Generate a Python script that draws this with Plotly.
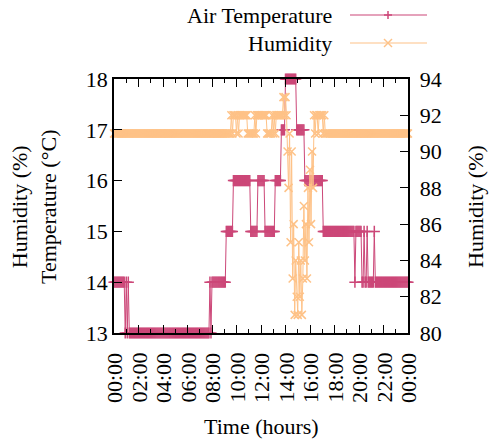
import plotly.graph_objects as go

# ---- data: 5-minute readings over one day (00:00 .. 24:00) ----
sample_minutes = list(range(0, 24 * 60 + 1, 5))
time_hours = [m / 60 for m in sample_minutes]

air_temperature = [
    14, 14, 14, 14, 14, 14, 14, 14, 14, 14, 14, 13,   # 00h
    14, 13, 14, 13, 13, 13, 13, 13, 13, 13, 13, 13,   # 01h
    13, 13, 13, 13, 13, 13, 13, 13, 13, 13, 13, 13,   # 02h
    13, 13, 13, 13, 13, 13, 13, 13, 13, 13, 13, 13,   # 03h
    13, 13, 13, 13, 13, 13, 13, 13, 13, 13, 13, 13,   # 04h
    13, 13, 13, 13, 13, 13, 13, 13, 13, 13, 13, 13,   # 05h
    13, 13, 13, 13, 13, 13, 13, 13, 13, 13, 13, 13,   # 06h
    13, 13, 13, 13, 13, 13, 13, 13, 13, 13, 14, 13,   # 07h
    14, 14, 14, 14, 14, 14, 14, 14, 14, 14, 14, 14,   # 08h
    14, 14, 15, 15, 15, 15, 15, 15, 15, 16, 16, 16,   # 09h
    16, 16, 16, 16, 16, 16, 16, 16, 16, 16, 16, 16,   # 10h
    16, 16, 15, 15, 15, 15, 15, 15, 15, 16, 16, 16,   # 11h
    16, 16, 16, 16, 15, 15, 15, 15, 15, 15, 15, 15,   # 12h
    15, 15, 16, 16, 16, 16, 16, 16, 17, 17, 17, 17,   # 13h
    18, 18, 18, 18, 18, 18, 18, 18, 18, 18, 18, 17,   # 14h
    17, 17, 17, 17, 17, 17, 17, 16, 16, 16, 16, 16,   # 15h
    16, 16, 16, 16, 16, 16, 16, 16, 16, 16, 16, 16,   # 16h
    16, 15, 15, 15, 15, 15, 15, 15, 15, 15, 15, 15,   # 17h
    15, 15, 15, 15, 15, 15, 15, 15, 15, 15, 15, 15,   # 18h
    15, 15, 15, 15, 15, 15, 15, 15, 14, 15, 15, 15,   # 19h
    15, 15, 15, 14, 14, 15, 14, 14, 15, 14, 14, 14,   # 20h
    14, 14, 14, 15, 14, 14, 14, 14, 14, 14, 14, 14,   # 21h
    14, 14, 14, 14, 14, 14, 14, 14, 14, 14, 14, 14,   # 22h
    14, 14, 14, 14, 14, 14, 14, 14, 14, 14, 14, 14,   # 23h
    14,                                               # 24h
]

humidity = [
    91, 91, 91, 91, 91, 91, 91, 91, 91, 91, 91, 91,   # 00h
    91, 91, 91, 91, 91, 91, 91, 91, 91, 91, 91, 91,   # 01h
    91, 91, 91, 91, 91, 91, 91, 91, 91, 91, 91, 91,   # 02h
    91, 91, 91, 91, 91, 91, 91, 91, 91, 91, 91, 91,   # 03h
    91, 91, 91, 91, 91, 91, 91, 91, 91, 91, 91, 91,   # 04h
    91, 91, 91, 91, 91, 91, 91, 91, 91, 91, 91, 91,   # 05h
    91, 91, 91, 91, 91, 91, 91, 91, 91, 91, 91, 91,   # 06h
    91, 91, 91, 91, 91, 91, 91, 91, 91, 91, 91, 91,   # 07h
    91, 91, 91, 91, 91, 91, 91, 91, 91, 91, 91, 91,   # 08h
    91, 91, 91, 91, 91, 91, 91, 92, 91, 92, 92, 92,   # 09h
    91, 92, 91, 92, 92, 92, 92, 92, 92, 92, 92, 91,   # 10h
    91, 91, 91, 91, 91, 91, 92, 91, 92, 92, 92, 92,   # 11h
    92, 92, 92, 92, 92, 92, 91, 91, 91, 91, 91, 92,   # 12h
    91, 92, 91, 92, 92, 92, 92, 92, 92, 92, 93, 92,   # 13h
    93, 92, 90, 88, 91, 85, 90, 83, 86, 81, 84, 82,   # 14h
    81, 85, 82, 84, 81, 83, 87, 84, 86, 83, 88, 85,   # 15h
    89, 86, 90, 88, 92, 91, 92, 92, 91, 92, 92, 92,   # 16h
    92, 91, 92, 91, 91, 91, 91, 91, 91, 91, 91, 91,   # 17h
    91, 91, 91, 91, 91, 91, 91, 91, 91, 91, 91, 91,   # 18h
    91, 91, 91, 91, 91, 91, 91, 91, 91, 91, 91, 91,   # 19h
    91, 91, 91, 91, 91, 91, 91, 91, 91, 91, 91, 91,   # 20h
    91, 91, 91, 91, 91, 91, 91, 91, 91, 91, 91, 91,   # 21h
    91, 91, 91, 91, 91, 91, 91, 91, 91, 91, 91, 91,   # 22h
    91, 91, 91, 91, 91, 91, 91, 91, 91, 91, 91, 91,   # 23h
    91,                                               # 24h
]

x_tick_values = [0, 2, 4, 6, 8, 10, 12, 14, 16, 18, 20, 22, 24]
x_tick_labels = ["00:00", "02:00", "04:00", "06:00", "08:00", "10:00", "12:00",
                 "14:00", "16:00", "18:00", "20:00", "22:00", "00:00"]
temp_ticks = [13, 14, 15, 16, 17, 18]
hum_ticks = [80, 82, 84, 86, 88, 90, 92, 94]

TEMP_COLOR = "#cc4778"
HUM_COLOR = "#fec287"
FONT = "Times New Roman, Liberation Serif, Times, DejaVu Serif, serif"
FS = 22
TXT = dict(family=FONT, size=FS, color="black")
NBSP = "\u00a0"

# ---- geometry (pixels) ----
W, H = 495, 440
L, R, T, B = 114, 408, 79, 333


def px_x(px):
    return (px - L) / (R - L)


def px_y(py):
    return (B - py) / (B - T)


fig = go.Figure()
fig.add_trace(go.Scatter(
    x=time_hours, y=air_temperature, name="Air Temperature",
    mode="lines+markers", cliponaxis=False,
    line=dict(color=TEMP_COLOR, width=1),
    marker=dict(symbol="cross-thin", size=8, color=TEMP_COLOR,
                line=dict(color=TEMP_COLOR, width=1.5)),
    yaxis="y", showlegend=False,
))
fig.add_trace(go.Scatter(
    x=time_hours, y=humidity, name="Humidity",
    mode="lines+markers", cliponaxis=False,
    line=dict(color=HUM_COLOR, width=1),
    marker=dict(symbol="x-thin", size=8, color=HUM_COLOR,
                line=dict(color=HUM_COLOR, width=1.5)),
    yaxis="y2", showlegend=False,
))

fig.update_layout(
    width=W, height=H,
    margin=dict(l=L, r=W - R, t=T, b=H - B, pad=0),
    paper_bgcolor="white", plot_bgcolor="white",
    font=TXT,
    xaxis=dict(
        range=[0, 24], tickvals=x_tick_values, showticklabels=False,
        ticks="inside", ticklen=8, tickwidth=1, tickcolor="black",
        minor=dict(dtick=1, tick0=0, ticks="inside", ticklen=4, tickcolor="black"),
        showline=True, linecolor="black", linewidth=1.5, mirror="ticks",
        showgrid=False, zeroline=False,
    ),
    yaxis=dict(
        range=[13, 18], tickvals=temp_ticks, ticks="inside", ticklen=8,
        tickwidth=1, tickcolor="black",
        showline=True, linecolor="black", linewidth=1.5,
        showgrid=False, zeroline=False, tickfont=TXT,
    ),
    yaxis2=dict(
        range=[80, 94], tickvals=hum_ticks,
        ticktext=[NBSP + str(v) for v in hum_ticks],
        overlaying="y", side="right",
        ticks="inside", ticklen=8, tickwidth=1, tickcolor="black",
        showline=True, linecolor="black", linewidth=1.5,
        showgrid=False, zeroline=False, tickfont=TXT,
    ),
)

annotations = []
# x tick labels, placed on the x scale, rotated like the original
for v, lab in zip(x_tick_values, x_tick_labels):
    annotations.append(dict(text=lab, x=v, xref="x", y=px_y(351), yref="paper",
                            showarrow=False, textangle=-90, font=TXT,
                            xanchor="center", yanchor="top"))
annotations += [
    dict(text="Time (hours)", x=0.5, y=px_y(426), xref="paper", yref="paper",
         showarrow=False, xanchor="center", yanchor="middle", font=TXT),
    dict(text="Humidity (%)<br>Temperature (°C)", x=px_x(34), y=px_y(207),
         xref="paper", yref="paper", showarrow=False, textangle=-90,
         xanchor="center", yanchor="middle", font=TXT),
    dict(text="Humidity (%)", x=px_x(475), y=px_y(207), xref="paper", yref="paper",
         showarrow=False, textangle=-90, xanchor="center", yanchor="middle",
         font=TXT),
    dict(text="Air Temperature", x=px_x(334), y=px_y(15), xref="paper", yref="paper",
         showarrow=False, xanchor="right", yanchor="middle", font=TXT),
    dict(text="Humidity", x=px_x(334), y=px_y(43), xref="paper", yref="paper",
         showarrow=False, xanchor="right", yanchor="middle", font=TXT),
]
fig.update_layout(annotations=annotations)

shapes = []
for py, color, sym in [(15, TEMP_COLOR, "+"), (43, HUM_COLOR, "x")]:
    yy = px_y(py)
    shapes.append(dict(type="line", xref="paper", yref="paper",
                       x0=px_x(350), x1=px_x(427), y0=yy, y1=yy,
                       line=dict(color=color, width=1.2)))
    cx = px_x(388)
    if sym == "+":
        segs = [(-4, 0, 4, 0), (0, -4, 0, 4)]
    else:
        segs = [(-4, -4, 4, 4), (-4, 4, 4, -4)]
    for a, b, c, d in segs:
        shapes.append(dict(type="line", xref="paper", yref="paper",
                           xsizemode="pixel", ysizemode="pixel",
                           xanchor=cx, yanchor=yy, x0=a, y0=b, x1=c, y1=d,
                           line=dict(color=color, width=1.5)))
fig.update_layout(shapes=shapes)

fig.write_html("out.html")
